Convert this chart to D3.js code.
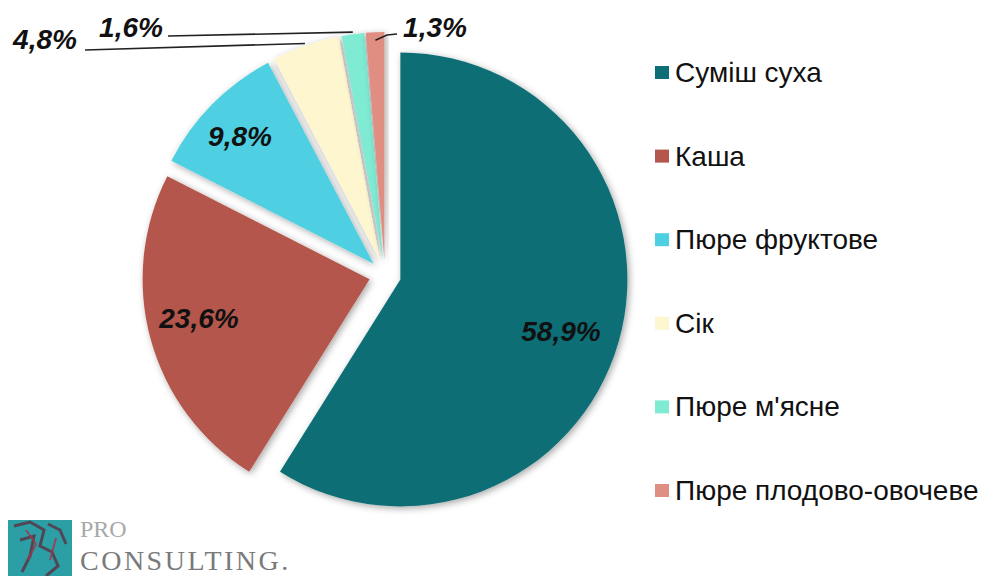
<!DOCTYPE html>
<html>
<head>
<meta charset="utf-8">
<script src="https://cdn.jsdelivr.net/npm/d3@7"></script>
<style>
  body { margin: 0; background: #fff; }
  svg { display: block; }
</style>
</head>
<body>
<svg id="chart" width="985" height="576"></svg>
<script>
const categories = ["Суміш суха", "Каша", "Пюре фруктове", "Сік", "Пюре м'ясне", "Пюре плодово-овочеве"];
const values = [58.9, 23.6, 9.8, 4.8, 1.6, 1.3];
const labels = ["58,9%", "23,6%", "9,8%", "4,8%", "1,6%", "1,3%"];
const colors = ["#0e6e75", "#b4564b", "#4fd0e2", "#fdf6cf", "#7febd3", "#e08d82"];

const svg = d3.select("#chart");
const cx = 385, cy = 275, radius = 227, explode = 16;

const defs = svg.append("defs");
const shadow = defs.append("filter").attr("id", "shadow")
  .attr("x", "-20%").attr("y", "-20%").attr("width", "140%").attr("height", "140%");
shadow.append("feDropShadow")
  .attr("dx", 2).attr("dy", 2).attr("stdDeviation", 3.5)
  .attr("flood-color", "#000").attr("flood-opacity", 0.35);

const pie = d3.pie().sort(null).value(d => d)(values);
const arc = d3.arc().innerRadius(0).outerRadius(radius);

// offset of each exploded slice from the centre
const offset = d => {
  const mid = (d.startAngle + d.endAngle) / 2;
  return [explode * Math.sin(mid), -explode * Math.cos(mid)];
};
// point on the outer edge at the slice's middle angle
const outerMid = (d, r) => {
  const mid = (d.startAngle + d.endAngle) / 2;
  const o = offset(d);
  return [cx + o[0] + r * Math.sin(mid), cy + o[1] - r * Math.cos(mid)];
};

const pieG = svg.append("g").attr("transform", `translate(${cx},${cy})`);
pieG.selectAll("path")
  .data(pie)
  .join("path")
  .attr("transform", d => `translate(${offset(d)})`)
  .attr("d", arc)
  .attr("fill", (d, i) => colors[i])
  .attr("filter", "url(#shadow)");

// label positions (inside for big slices, outside for the small ones)
const labelPos = [[561, 341], [199, 328], [240, 146], [45, 49], [131, 37], [435, 37]];

svg.append("g").selectAll("text")
  .data(labels)
  .join("text")
  .attr("x", (d, i) => labelPos[i][0])
  .attr("y", (d, i) => labelPos[i][1])
  .attr("text-anchor", "middle")
  .style("font-family", "'Liberation Sans', Arial, sans-serif")
  .style("font-size", "28px")
  .style("font-weight", "bold")
  .style("font-style", "italic")
  .style("fill", "#111")
  .text(d => d);

// leader lines for small slices
const leaders = [
  { i: 3, from: [85, 50] },
  { i: 4, from: [168, 36] },
  { i: 5, from: [397, 34] }
];
svg.append("g").selectAll("path")
  .data(leaders)
  .join("path")
  .attr("d", l => {
    if (l.i === 5) {
      const p = outerMid(pie[l.i], radius - 8);
      return `M${l.from}L387,35L${p}`;
    }
    const p = outerMid(pie[l.i], radius + 2);
    return `M${l.from}L${p}`;
  })
  .attr("fill", "none")
  .attr("stroke", "#222")
  .attr("stroke-width", 1.6);

// legend
const legend = svg.append("g").attr("transform", "translate(655,72)");
const rows = legend.selectAll("g")
  .data(categories)
  .join("g")
  .attr("transform", (d, i) => `translate(0,${i * 83.6})`);
rows.append("rect")
  .attr("x", 0).attr("y", -6).attr("width", 14).attr("height", 13)
  .attr("fill", (d, i) => colors[i]);
rows.append("text")
  .attr("x", 20).attr("y", 10)
  .style("font-family", "'Liberation Sans', Arial, sans-serif")
  .style("font-size", "28px")
  .style("fill", "#111")
  .text(d => d);

// logo
const logo = svg.append("g");
logo.append("rect").attr("x", 8).attr("y", 520).attr("width", 64).attr("height", 56).attr("fill", "#2b9ea6");
logo.append("path")
  .attr("d", "M14,526 L30,522 L44,530 L40,546 L52,552 L58,566 L46,576 M20,540 L34,536 L30,556 L22,572 M48,524 L60,530 L66,544")
  .attr("fill", "none").attr("stroke", "#5a3040").attr("stroke-width", 3).attr("opacity", 0.8);
logo.append("path")
  .attr("d", "M26,530 L36,544 L28,560 M56,538 L50,560")
  .attr("fill", "none").attr("stroke", "#a8324a").attr("stroke-width", 2).attr("opacity", 0.8);
logo.append("text")
  .attr("x", 80).attr("y", 537)
  .style("font-family", "'Liberation Serif', 'Times New Roman', serif")
  .style("font-size", "24px")
  .style("fill", "#a9a9a9")
  .text("PRO");
logo.append("text")
  .attr("x", 80).attr("y", 570)
  .style("font-family", "'Liberation Serif', 'Times New Roman', serif")
  .style("font-size", "28px")
  .style("letter-spacing", "2.5px")
  .style("fill", "#7a7a7a")
  .text("CONSULTING.");
</script>
</body>
</html>
